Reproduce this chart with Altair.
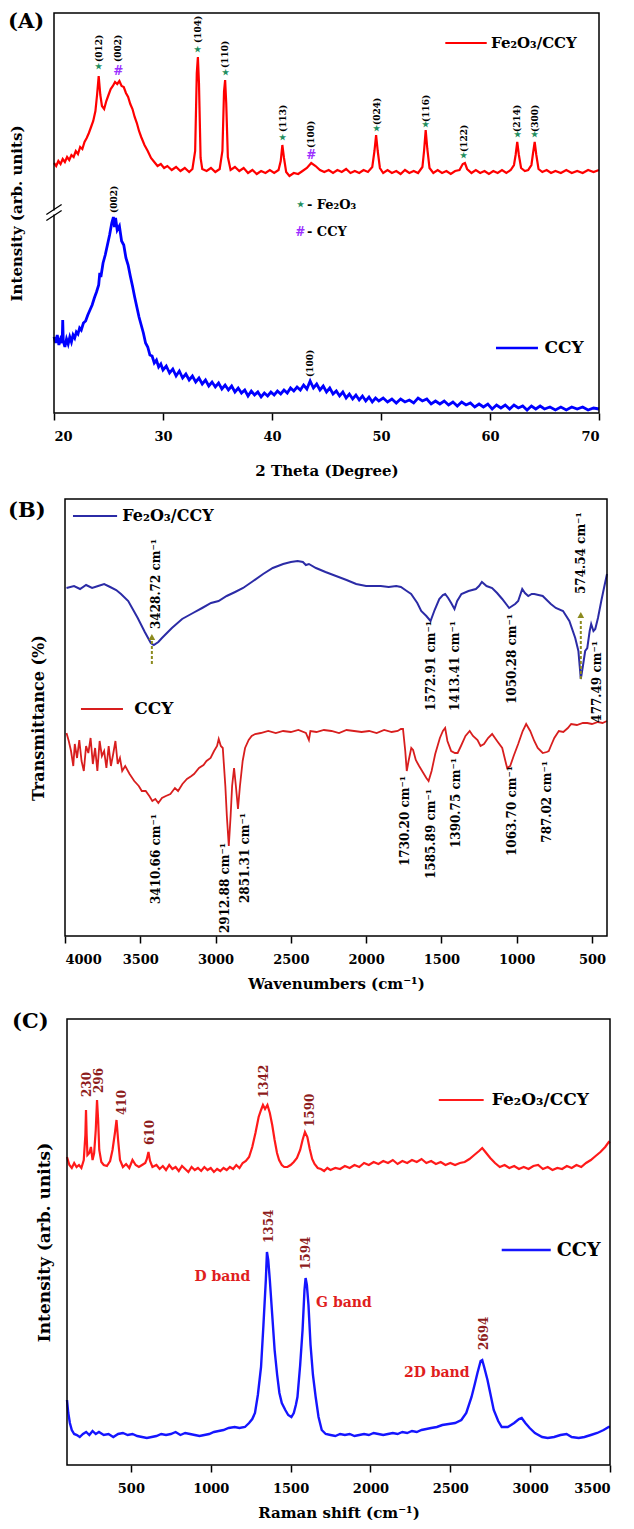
import altair as alt
import pandas as pd

FONT = "DejaVu Serif"

# ---------------- Panel A : XRD ----------------
xrd_fe_x = [20.0,20.2,20.4,20.6,20.8,21.0,21.2,21.4,21.6,21.8,22.0,22.2,22.4,22.6,22.8,23.0,23.2,23.4,23.6,23.8,23.95,24.1,24.25,24.4,24.6,24.8,25.0,25.2,25.4,25.6,25.8,26.0,26.2,26.4,26.6,26.8,27.0,27.2,27.4,27.6,27.8,28.0,28.3,28.6,28.9,29.2,29.5,29.8,30.1,30.4,30.8,31.2,31.6,32.0,32.4,32.7,32.95,33.1,33.2,33.3,33.45,33.6,34.0,34.4,34.8,35.2,35.45,35.6,35.7,35.8,35.95,36.2,36.6,37.0,37.4,37.8,38.2,38.6,39.0,39.4,39.8,40.2,40.6,40.8,40.95,41.1,41.3,41.6,42.0,42.4,42.8,43.2,43.6,44.0,44.4,44.8,45.2,45.6,46.0,46.4,46.8,47.2,47.6,48.0,48.4,48.8,49.2,49.4,49.55,49.7,49.9,50.2,50.6,51.0,51.4,51.8,52.2,52.6,53.0,53.4,53.8,53.95,54.1,54.25,54.45,54.8,55.2,55.6,56.0,56.4,56.8,57.2,57.5,57.7,57.9,58.3,58.7,59.1,59.5,59.9,60.3,60.7,61.1,61.5,61.9,62.2,62.35,62.5,62.65,62.85,63.2,63.5,63.8,63.95,64.1,64.25,64.45,64.8,65.2,65.6,66.0,66.5,67.0,67.5,68.0,68.5,69.0,69.5,70.0]
xrd_fe_y = [250,247,252,249,254,251,256,253,258,256,262,259,266,264,271,275,280,286,292,302,318,337,318,307,304,312,318,324,327,331,329,332,327,326,320,316,309,304,296,290,282,276,268,262,255,251,247,249,245,247,243,246,242,245,241,244,262,340,356,330,255,244,242,245,241,244,262,322,333,310,256,243,246,242,245,240,243,239,242,240,243,240,243,252,268,255,241,237,240,239,242,245,250,247,243,241,243,240,243,241,244,240,242,240,243,241,246,262,278,262,245,240,243,240,242,239,243,240,242,240,246,262,283,264,245,240,243,240,242,239,242,243,249,250,244,240,243,240,242,239,242,240,243,240,243,248,258,271,258,245,242,243,248,260,271,258,244,241,243,240,242,240,243,240,242,240,243,241,243]

xrd_ccy_x = [20.0,20.15,20.3,20.45,20.6,20.75,20.8,20.85,21.0,21.15,21.3,21.45,21.6,21.75,21.9,22.05,22.2,22.35,22.5,22.7,22.9,23.1,23.3,23.5,23.7,23.9,24.1,24.2,24.3,24.5,24.7,24.9,25.1,25.3,25.45,25.55,25.65,25.8,26.0,26.2,26.4,26.6,26.8,27.0,27.2,27.4,27.6,27.8,28.0,28.2,28.4,28.6,28.8,29.0,29.2,29.4,29.6,29.8,30.0,30.3,30.6,30.9,31.2,31.5,31.8,32.1,32.4,32.7,33.0,33.3,33.6,33.9,34.2,34.5,34.8,35.1,35.4,35.7,36.0,36.3,36.6,36.9,37.2,37.5,37.8,38.1,38.4,38.7,39.0,39.3,39.6,39.9,40.2,40.5,40.8,41.1,41.4,41.7,42.0,42.3,42.6,42.9,43.2,43.5,43.8,44.1,44.4,44.7,45.0,45.3,45.6,45.9,46.2,46.5,46.8,47.1,47.4,47.7,48.0,48.3,48.6,48.9,49.2,49.5,49.8,50.2,50.6,51.0,51.4,51.8,52.2,52.6,53.0,53.4,53.8,54.2,54.6,55.0,55.4,55.8,56.2,56.6,57.0,57.4,57.8,58.2,58.6,59.0,59.4,59.8,60.2,60.6,61.0,61.4,61.8,62.2,62.6,63.0,63.4,63.8,64.2,64.6,65.0,65.5,66.0,66.5,67.0,67.5,68.0,68.5,69.0,69.5,70.0]
xrd_ccy_y = [76,70,78,68,74,70,93,72,66,74,69,76,71,78,75,81,79,85,83,90,92,98,103,108,115,121,128,140,136,150,158,168,178,190,196,186,195,183,187,172,168,155,148,137,127,116,106,96,88,80,70,66,58,57,50,53,46,49,43,47,40,44,37,42,35,39,33,37,31,35,29,33,27,31,26,30,24,28,23,27,21,25,20,23,17,22,18,21,16,20,17,21,18,22,19,23,20,25,22,26,23,28,24,32,25,29,23,27,21,25,19,22,17,21,15,19,14,18,13,17,12,16,11,15,12,15,11,14,10,14,11,13,10,15,12,14,9,12,9,12,8,11,7,11,8,10,6,9,6,9,4,8,5,8,4,8,5,7,3,7,4,7,4,6,3,6,3,6,4,6,3,5,4]

xrd_hkl = ["(012)","(002)","(104)","(110)","(113)","(100)","(024)","(116)","(122)","(214)","(300)"]
xrd_hkl_x = [24.1,25.9,33.2,35.7,41.0,43.6,49.6,54.1,57.6,62.5,64.1]
xrd_hkl_y = [351,351,370,345,281,265,288,291,261,281,281]
xrd_sym = ["★","#","★","★","★","#","★","★","★","★","★"]
xrd_sym_y = [346,342,363,340,275,258,284,288,257,278,278]
xrd_ccy_hkl = ["(002)","(100)"]
xrd_ccy_hkl_x = [25.5,43.5]
xrd_ccy_hkl_y = [200,36]

# ---------------- Panel B : FTIR ----------------
ftir_fe_x = [3990,3940,3900,3860,3820,3780,3740,3700,3660,3628,3580,3517,3470,3430,3410,3380,3356,3290,3222,3150,3089,3030,2980,2926,2870,2817,2750,2684,2620,2551,2500,2455,2420,2400,2380,2333,2270,2200,2130,2066,2000,1950,1903,1850,1800,1769,1730,1701,1660,1634,1600,1572,1545,1514,1490,1475,1455,1435,1413,1395,1367,1320,1271,1250,1231,1200,1163,1130,1096,1060,1050,1030,1010,990,963,945,923,900,883,855,827,800,773,740,692,650,611,590,574,560,545,531,515,505,490,478,460,438,420,400]
ftir_fe_y = [348,350,347,351,348,350,352,349,346,342,335,318,304,293,291,294,298,308,317,323,328,333,335,340,344,348,355,362,368,372,374,375,374,371,372,368,364,360,356,352,350,350,350,349,350,349,345,342,333,325,320,315,326,337,341,342,338,333,327,335,342,345,347,350,354,350,348,343,337,330,328,330,332,335,347,343,340,342,342,341,340,336,332,328,325,315,298,285,257,270,285,288,305,312,305,307,318,335,348,362]

ftir_ccy_x = [3990,3975,3960,3945,3935,3920,3905,3890,3875,3860,3845,3830,3815,3800,3785,3770,3755,3740,3725,3710,3695,3680,3665,3650,3635,3620,3600,3571,3540,3510,3490,3464,3440,3420,3400,3380,3356,3330,3300,3270,3249,3220,3190,3160,3143,3110,3080,3060,3033,3010,2990,2979,2965,2952,2935,2925,2912,2900,2890,2877,2865,2851,2838,2820,2804,2780,2760,2737,2700,2650,2600,2551,2500,2450,2400,2380,2370,2330,2280,2230,2180,2130,2080,2030,1980,1930,1880,1830,1790,1769,1755,1740,1730,1718,1700,1688,1670,1648,1620,1600,1585,1565,1541,1510,1490,1475,1460,1435,1410,1392,1370,1340,1312,1290,1260,1240,1217,1190,1163,1130,1096,1070,1063,1043,1020,990,960,937,910,883,860,827,800,787,773,750,720,690,660,638,600,560,531,500,460,430,400]
ftir_ccy_y = [203,195,185,170,192,178,196,175,165,190,183,198,172,188,165,195,180,185,168,190,170,182,195,172,178,165,170,162,155,150,145,145,140,135,137,133,138,140,142,148,145,152,157,160,162,168,171,175,178,185,190,197,190,188,150,120,90,120,150,168,150,127,150,175,188,196,200,202,203,205,203,205,204,206,203,196,205,204,206,205,203,206,205,204,205,203,206,204,205,207,207,185,165,175,188,186,176,170,163,158,155,165,182,198,205,208,195,185,183,183,190,200,205,200,196,190,192,198,202,195,188,172,168,170,180,192,205,212,205,195,188,183,184,185,190,198,205,204,208,212,211,213,213,212,214,213,215]

ftir_fe_lbl = ["1572.91 cm⁻¹","1413.41 cm⁻¹","1050.28 cm⁻¹","477.49 cm⁻¹"]
ftir_fe_lbl_x = [1568,1409,1030,465]
ftir_fe_lbl_y = [315,315,322,295]
ftir_fe_up = ["3428.72 cm⁻¹","574.54 cm⁻¹"]
ftir_fe_up_x = [3395,571]
ftir_fe_up_y = [307,342]
ftir_arrow_x = [3423,574]
ftir_arrow_y0 = [272,257]
ftir_arrow_y1 = [296,317]
ftir_arrow_head = [299,321]
ftir_ccy_lbl = ["3410.66 cm⁻¹","2912.88 cm⁻¹","2851.31 cm⁻¹","1730.20 cm⁻¹","1585.89 cm⁻¹","1390.75 cm⁻¹","1063.70 cm⁻¹","787.02 cm⁻¹"]
ftir_ccy_lbl_x = [3395,2939,2804,1742,1568,1405,1030,800]
ftir_ccy_lbl_y = [122,93,123,160,147,178,170,175]

# ---------------- Panel C : Raman ----------------
raman_fe_x = [100,115,130,145,160,175,190,205,215,219,223,228,240,250,260,270,280,288,295,302,315,330,350,370,385,400,410,420,432,450,470,490,510,530,550,570,590,600,610,620,635,660,680,700,720,740,760,780,800,820,840,860,880,900,920,940,960,980,1000,1020,1040,1060,1080,1100,1120,1140,1160,1180,1200,1220,1240,1260,1280,1300,1315,1327,1340,1355,1370,1385,1400,1415,1428,1445,1460,1480,1500,1520,1540,1560,1575,1590,1605,1620,1635,1650,1670,1690,1710,1730,1750,1780,1810,1840,1870,1900,1930,1960,1990,2020,2050,2080,2110,2140,2170,2200,2230,2260,2290,2320,2350,2380,2410,2440,2470,2500,2530,2560,2590,2620,2650,2680,2700,2720,2750,2780,2810,2840,2870,2900,2930,2960,2990,3020,3050,3080,3110,3140,3170,3200,3230,3260,3290,3320,3350,3380,3410,3440,3470,3492,3500]
raman_fe_y = [308,300,297,302,298,300,297,305,330,355,330,310,312,318,305,312,335,365,345,315,303,300,299,304,315,332,345,325,305,298,301,297,305,300,298,300,302,306,313,304,298,300,296,299,295,300,296,298,294,299,296,293,298,295,297,294,298,295,297,293,296,294,297,295,298,296,300,297,302,304,308,318,332,348,355,360,356,360,352,340,325,312,305,300,298,298,300,303,307,315,325,333,328,316,306,301,297,296,294,297,295,297,296,299,297,300,298,302,300,303,301,304,302,305,301,304,302,305,303,306,302,304,301,303,300,302,300,302,303,306,310,314,317,313,307,302,298,300,297,299,296,298,296,299,300,296,298,295,297,296,299,297,300,298,302,305,309,313,318,323,322]

raman_ccy_x = [100,108,118,130,145,162,180,200,220,240,260,280,300,330,360,390,420,450,480,510,540,570,600,630,660,690,720,750,780,810,840,870,900,930,960,990,1020,1050,1080,1112,1150,1180,1214,1240,1260,1277,1295,1315,1330,1345,1352,1360,1370,1385,1400,1416,1430,1445,1467,1485,1505,1520,1533,1543,1560,1575,1587,1594,1602,1612,1625,1640,1657,1675,1695,1720,1750,1780,1810,1840,1870,1900,1930,1960,1990,2020,2050,2080,2110,2140,2170,2200,2230,2260,2290,2320,2350,2380,2416,2450,2490,2530,2569,2600,2633,2655,2670,2690,2700,2712,2733,2750,2772,2800,2822,2860,2900,2930,2947,2970,2997,3030,3075,3110,3150,3190,3228,3260,3304,3340,3380,3420,3460,3492,3500]
raman_ccy_y = [65,52,42,35,31,30,28,31,33,30,34,31,33,30,31,28,31,32,30,31,29,28,27,28,29,31,30,31,33,30,32,31,30,29,30,31,33,34,35,37,38,37,38,42,46,52,70,98,140,185,213,205,185,150,115,90,72,62,55,50,48,52,60,68,100,135,175,187,180,160,120,90,68,48,35,31,30,29,31,30,31,29,30,31,30,32,31,30,31,32,31,33,32,34,33,35,36,37,38,40,41,42,45,52,68,82,92,104,105,98,85,72,55,44,38,38,42,46,47,42,37,32,28,27,28,30,31,28,27,28,30,32,35,38,38]

raman_fe_lbl = ["230","296","410","610","1342","1590"]
raman_fe_lbl_x = [225,300,444,620,1332,1619]
raman_fe_lbl_y = [368,372,350,320,367,338]
raman_ccy_lbl = ["1354","1594","2694"]
raman_ccy_lbl_x = [1364,1599,2708]
raman_ccy_lbl_y = [222,195,115]
raman_band = ["D band","G band","2D band"]
raman_band_x = [1073,1834,2415]
raman_band_y = [188,162,92]


def df(x, y, **kw):
    d = {"x": x, "y": y}
    d.update(kw)
    return pd.DataFrame(d)


def txt(data, **kw):
    base = dict(font=FONT, fontWeight="bold")
    base.update(kw)
    return alt.Chart(data).mark_text(**base).encode(x="x:Q", y="y:Q", text="t:N")


def seg(x, x2, y, color, width=2):
    return alt.Chart(pd.DataFrame({"x": [x], "x2": [x2], "y": [y]})).mark_rule(
        color=color, strokeWidth=width).encode(x="x:Q", x2="x2:Q", y="y:Q")


def panel_label(t, dx, dy):
    return alt.Chart(pd.DataFrame({"t": [t]})).mark_text(
        font=FONT, fontWeight="bold", fontSize=21, align="left", baseline="middle",
        color="black").encode(x=alt.value(dx), y=alt.value(dy), text="t:N")


def frame(x0, x1, h):
    return alt.Chart(pd.DataFrame({"a": [0]})).mark_rect(
        fillOpacity=0, stroke="black", strokeWidth=1.5).encode(
        x=alt.value(x0), x2=alt.value(x1), y=alt.value(0), y2=alt.value(h))


def xaxis(values, title, tpad):
    return alt.Axis(values=values, title=title, format="d", grid=False, domain=False,
                    ticks=True, tickSize=7, tickWidth=1.5, tickColor="black",
                    labelPadding=10, labelFont=FONT, labelFontWeight="bold",
                    labelFontSize=13, labelColor="black", titleFont=FONT,
                    titleFontWeight="bold", titleFontSize=15, titleColor="black",
                    titlePadding=tpad)


def yaxis(title, pad, size):
    return alt.Axis(title=title, labels=False, ticks=False, domain=False, grid=False,
                    titleFont=FONT, titleFontWeight="bold", titleFontSize=size,
                    titleColor="black", titlePadding=pad)


# ----- Panel A -----
xA = alt.X("x:Q", scale=alt.Scale(domain=[20, 70], nice=False, zero=False),
           axis=xaxis([20, 30, 40, 50, 60, 70], "2 Theta (Degree)", 20))
yA = alt.Y("y:Q", scale=alt.Scale(domain=[0, 400], nice=False, zero=False),
           axis=yaxis("Intensity (arb. units)", 30, 15))

A_red = alt.Chart(df(xrd_fe_x, xrd_fe_y)).mark_line(color="#ff0000", strokeWidth=2.2).encode(x=xA, y=yA)
A_blue = alt.Chart(df(xrd_ccy_x, xrd_ccy_y)).mark_line(color="#0000ff", strokeWidth=2.8).encode(x="x:Q", y="y:Q")
A_hkl = txt(df(xrd_hkl_x, xrd_hkl_y, t=xrd_hkl), angle=270, align="left", baseline="middle", fontSize=9, color="black")
A_hkl2 = txt(df(xrd_ccy_hkl_x, xrd_ccy_hkl_y, t=xrd_ccy_hkl), angle=270, align="left", baseline="middle", fontSize=9, color="black")
sym_df = df(xrd_hkl_x, xrd_sym_y, t=xrd_sym)
A_star = txt(sym_df[sym_df.t == "★"], fontSize=8, color="#1f8f5f", baseline="middle")
A_hash = txt(sym_df[sym_df.t == "#"], fontSize=12, color="#9b30ff", baseline="middle")
A_leg1 = seg(55.9, 59.7, 370, "#ff0000")
A_leg1t = txt(df([60.1], [370], t=["Fe₂O₃/CCY"]), fontSize=15, align="left", baseline="middle", color="black")
A_leg2 = seg(60.55, 64.4, 65, "#0000ff", 2.5)
A_leg2t = txt(df([65.0], [65], t=["CCY"]), fontSize=17, align="left", baseline="middle", color="black")
A_k1 = txt(df([42.6], [208], t=["★"]), fontSize=8, color="#1f8f5f", baseline="middle")
A_k1t = txt(df([43.2], [208], t=["- Fe₂O₃"]), fontSize=13, align="left", baseline="middle", color="black")
A_k2 = txt(df([42.6], [181], t=["#"]), fontSize=12, color="#9b30ff", baseline="middle")
A_k2t = txt(df([43.2], [181], t=["- CCY"]), fontSize=13, align="left", baseline="middle", color="black")
A_gap = alt.Chart(pd.DataFrame({"x": [19.8], "x2": [20.2], "y": [198.5], "y2": [202.5]})).mark_rect(
    color="white").encode(x="x:Q", x2="x2:Q", y="y:Q", y2="y2:Q")
A_brk = alt.Chart(pd.DataFrame({"x": [19.3, 19.3], "x2": [20.7, 20.7], "y": [192.5, 198.5], "y2": [202.5, 208.5]})).mark_rule(
    color="black", strokeWidth=1.3).encode(x="x:Q", x2="x2:Q", y="y:Q", y2="y2:Q")
A_lab = panel_label("(A)", -46, 9)

panelA = alt.layer(A_red, A_blue, A_hkl, A_hkl2, A_star, A_hash, A_leg1, A_leg1t, A_leg2, A_leg2t,
                   A_k1, A_k1t, A_k2, A_k2t, frame(0, 545, 400), A_gap, A_brk, A_lab).properties(width=545, height=400)

# ----- Panel B -----
xB = alt.X("x:Q", scale=alt.Scale(domain=[4000, 400], range=[11, 553], nice=False, zero=False),
           axis=xaxis([4000, 3500, 3000, 2500, 2000, 1500, 1000, 500], "Wavenumbers (cm⁻¹)", 10))
yB = alt.Y("y:Q", scale=alt.Scale(domain=[0, 437], nice=False, zero=False),
           axis=yaxis("Transmittance (%)", 8, 16))
B_blue = alt.Chart(df(ftir_fe_x, ftir_fe_y)).mark_line(color="#2b2ba6", strokeWidth=2).encode(x=xB, y=yB)
B_red = alt.Chart(df(ftir_ccy_x, ftir_ccy_y)).mark_line(color="#d81e1e", strokeWidth=1.8).encode(x="x:Q", y="y:Q")
B_l1 = txt(df(ftir_fe_lbl_x, ftir_fe_lbl_y, t=ftir_fe_lbl), angle=270, align="right", baseline="middle", fontSize=12, color="black")
B_l2 = txt(df(ftir_fe_up_x, ftir_fe_up_y, t=ftir_fe_up), angle=270, align="left", baseline="middle", fontSize=12, color="black")
B_l3 = txt(df(ftir_ccy_lbl_x, ftir_ccy_lbl_y, t=ftir_ccy_lbl), angle=270, align="right", baseline="middle", fontSize=12, color="black")
B_arr = alt.Chart(pd.DataFrame({"x": ftir_arrow_x, "y": ftir_arrow_y0, "y2": ftir_arrow_y1})).mark_rule(
    color="#8c8a1e", strokeWidth=2, strokeDash=[3, 2]).encode(x="x:Q", y="y:Q", y2="y2:Q")
B_head = alt.Chart(df(ftir_arrow_x, ftir_arrow_head)).mark_point(
    shape="triangle-up", filled=True, size=45, color="#8c8a1e", opacity=1).encode(x="x:Q", y="y:Q")
B_leg1 = seg(3947, 3654, 420, "#2b2ba6")
B_leg1t = txt(df([3620], [420], t=["Fe₂O₃/CCY"]), fontSize=16, align="left", baseline="middle", color="black")
B_leg2 = seg(3894, 3615, 227, "#d81e1e")
B_leg2t = txt(df([3540], [227], t=["CCY"]), fontSize=17, align="left", baseline="middle", color="black")
B_lab = panel_label("(B)", -46, 12)

panelB = alt.layer(B_blue, B_red, B_arr, B_head, B_l1, B_l2, B_l3, B_leg1, B_leg1t, B_leg2, B_leg2t,
                   frame(11, 553, 437), B_lab).properties(width=553, height=437)

# ----- Panel C -----
xC = alt.X("x:Q", scale=alt.Scale(domain=[100, 3500], range=[13, 556], nice=False, zero=False),
           axis=xaxis([500, 1000, 1500, 2000, 2500, 3000, 3500], "Raman shift (cm⁻¹)", 10))
yC = alt.Y("y:Q", scale=alt.Scale(domain=[0, 446], nice=False, zero=False),
           axis=yaxis("Intensity (arb. units)", 1, 17))
C_red = alt.Chart(df(raman_fe_x, raman_fe_y)).mark_line(color="#ff1a1a", strokeWidth=2.2).encode(x=xC, y=yC)
C_blue = alt.Chart(df(raman_ccy_x, raman_ccy_y)).mark_line(color="#1515ff", strokeWidth=2.4).encode(x="x:Q", y="y:Q")
C_l1 = txt(df(raman_fe_lbl_x, raman_fe_lbl_y, t=raman_fe_lbl), angle=270, align="left", baseline="middle", fontSize=12, color="#8e1c1c")
C_l2 = txt(df(raman_ccy_lbl_x, raman_ccy_lbl_y, t=raman_ccy_lbl), angle=270, align="left", baseline="middle", fontSize=12, color="#8e1c1c")
C_band = txt(df(raman_band_x, raman_band_y, t=raman_band), fontSize=14, align="center", baseline="middle", color="#e01e1e")
C_leg1 = seg(2428, 2709, 365, "#ff1a1a")
C_leg1t = txt(df([2760], [365], t=["Fe₂O₃/CCY"]), fontSize=17, align="left", baseline="middle", color="black")
C_leg2 = seg(2822, 3129, 215, "#1515ff", 2.5)
C_leg2t = txt(df([3166], [215], t=["CCY"]), fontSize=19, align="left", baseline="middle", color="black")
C_lab = panel_label("(C)", -42, 3)

panelC = alt.layer(C_red, C_blue, C_l1, C_l2, C_band, C_leg1, C_leg1t, C_leg2, C_leg2t,
                   frame(13, 556, 446), C_lab).properties(width=556, height=446)

chart = alt.vconcat(panelA, panelB, panelC, spacing=20,
                    padding={"left": 0, "top": 3, "right": 0, "bottom": 0},
                    background="white").configure_view(stroke="transparent", strokeWidth=0)

chart.save("out.html", embed_options={"renderer": "svg", "actions": False})
